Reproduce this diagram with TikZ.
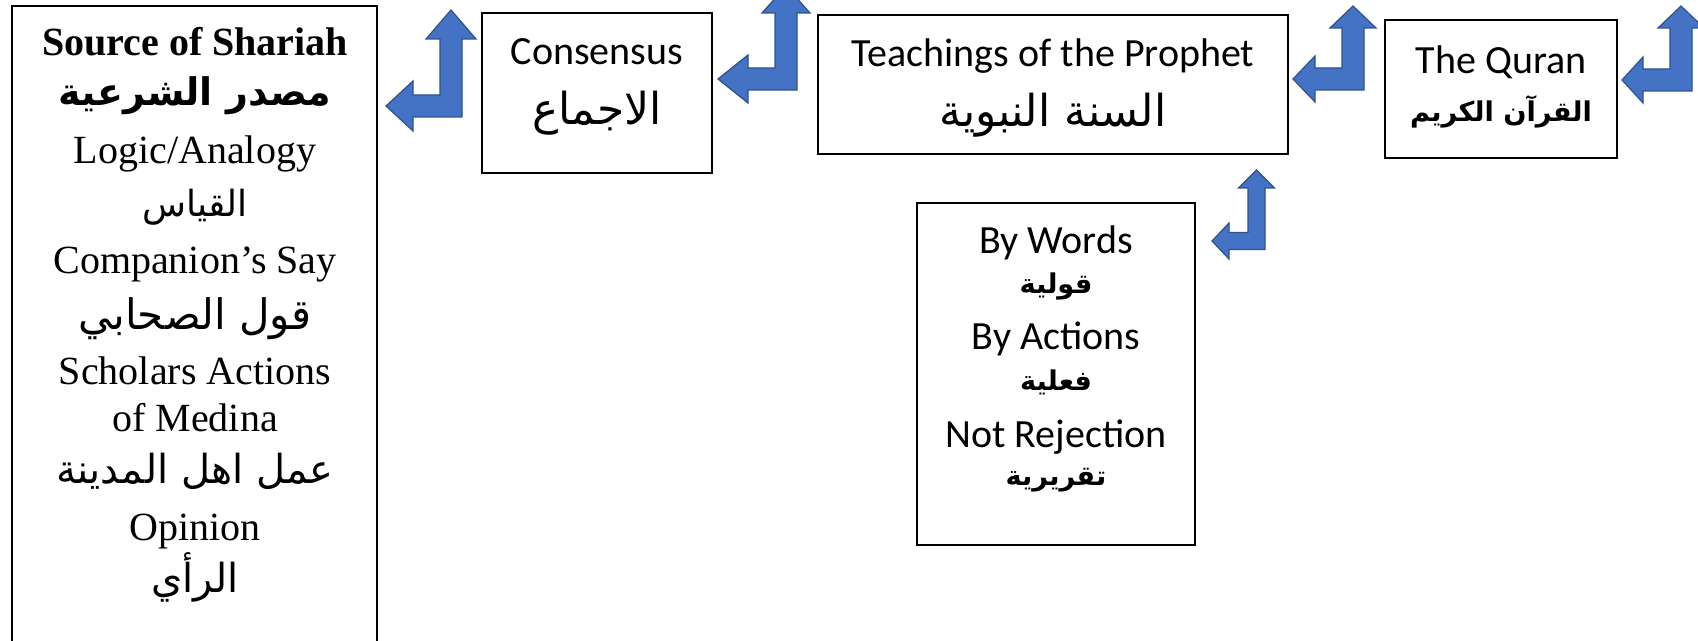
\documentclass[tikz,border=0pt]{standalone}
\usepackage{fontspec}
\setmainfont{Liberation Serif}
\newfontfamily\calfont{Carlito}
\newfontfamily\arfont[Script=Arabic]{DejaVu Sans}
\TeXXeTstate=1
\usetikzlibrary{fit}
\definecolor{arrowblue}{HTML}{4472C4}
\definecolor{arrowedge}{HTML}{2F528F}
\newcommand\LUarrow[8]{%
  \filldraw[arrowstyle] (#1,#2) -- (#3,#2-#4) -- (#3,#2-#5) -- (#6-#5,#2-#5) -- (#6-#5,#8)
    -- (#6-#4,#8) -- (#6,#7) -- (#6+#4,#8) -- (#6+#5,#8) -- (#6+#5,#2+#5)
    -- (#3,#2+#5) -- (#3,#2+#4) -- cycle;}
\tikzset{
  arrowstyle/.style={fill=arrowblue, draw=arrowedge, line width=0.6pt, line join=miter},
  boxstyle/.style={draw=black, line width=0.8pt, inner sep=0pt},
  latin/.style={anchor=base, inner sep=0pt, font=\fontsize{20}{24}\selectfont},
  latinb/.style={anchor=base, inner sep=0pt, font=\bfseries\fontsize{20}{24}\selectfont},
  cal/.style={anchor=base, inner sep=0pt, font=\calfont\fontsize{20}{24}\selectfont},
  arab/.style={anchor=base, inner sep=0pt, font=\arfont\fontsize{20}{20}\selectfont},
  arabm/.style={anchor=base, inner sep=0pt, font=\arfont\fontsize{21}{21}\selectfont},
  arabs/.style={anchor=base, inner sep=0pt, font=\arfont\fontsize{18}{18}\selectfont},
  arabl/.style={anchor=base, inner sep=0pt, font=\arfont\fontsize{22}{22}\selectfont},
  arabb/.style={anchor=base, inner sep=0pt, font=\arfont\bfseries\fontsize{19}{19}\selectfont},
  arabbs/.style={anchor=base, inner sep=0pt, font=\arfont\bfseries\fontsize{13.6}{14}\selectfont},
}
\begin{document}
\begin{tikzpicture}[x=0.5pt,y=-0.5pt]
\useasboundingbox (0,0) rectangle (1698,641);
\clip (0,0) rectangle (1698,641);
\fill[white] (0,0) rectangle (1698,641);

% boxes
\coordinate (srcA) at (12,6);   \coordinate (srcB) at (377,680);
\coordinate (consA) at (482,13); \coordinate (consB) at (712,173);
\coordinate (teachA) at (818,15); \coordinate (teachB) at (1288,154);
\coordinate (quranA) at (1385,20); \coordinate (quranB) at (1617,158);
\coordinate (wordsA) at (917,203); \coordinate (wordsB) at (1195,545);
\node[boxstyle, fit=(srcA)(srcB)] (src) {};
\node[boxstyle, fit=(consA)(consB)] (cons) {};
\node[boxstyle, fit=(teachA)(teachB)] (teach) {};
\node[boxstyle, fit=(quranA)(quranB)] (quran) {};
\node[boxstyle, fit=(wordsA)(wordsB)] (words) {};

% left box texts
\node[latinb] (s1) at (195,56) {Source of Shariah};
\node[arabb] (s2) at (195,106) {\beginR مصدر الشرعية\endR};
\node[latin] (s3) at (195,164) {Logic/Analogy};
\node[arabs] (s4) at (195,217) {\beginR القياس\endR};
\node[latin] (s5) at (195,274) {Companion’s Say};
\node[arabm] (s6) at (195,330) {\beginR قول الصحابي\endR};
\node[latin] (s7) at (195,385) {Scholars Actions};
\node[latin] (s8) at (195,432) {of Medina};
\node[arab] (s9) at (195,484) {\beginR عمل اهل المدينة\endR};
\node[latin] (s10) at (195,541) {Opinion};
\node[arab] (s11) at (195,592) {\beginR الرأي\endR};

% consensus
\node[cal] (c1) at (597,65) {Consensus};
\node[arabl] (c2) at (597,125) {\beginR الاجماع\endR};

% teachings
\node[cal] (t1) at (1053,67) {Teachings of the Prophet};
\node[arabl] (t2) at (1053,127) {\beginR السنة النبوية\endR};

% quran
\node[cal] (q1) at (1501,74) {The Quran};
\node[arabbs] (q2) at (1501,122) {\beginR القرآن الكريم\endR};

% by words
\node[cal] (w1) at (1056,254) {By Words};
\node[arabbs] (w2) at (1056,294) {\beginR قولية\endR};
\node[cal] (w3) at (1056,350) {By Actions};
\node[arabbs] (w4) at (1056,391) {\beginR فعلية\endR};
\node[cal] (w5) at (1056,448) {Not Rejection};
\node[arabbs] (w6) at (1056,486) {\beginR تقريرية\endR};

% bent arrows
\LUarrow{386}{106}{413}{25}{11}{451}{10}{39}
\LUarrow{718}{79}{748}{24}{11}{786}{-14}{13}
\LUarrow{1293}{79}{1315}{23}{11}{1353}{6}{28}
\LUarrow{1622}{80}{1643}{23}{11}{1681}{6}{28}
\LUarrow{1212}{241}{1229}{18}{8.5}{1256.5}{170}{188}
\end{tikzpicture}
\end{document}
